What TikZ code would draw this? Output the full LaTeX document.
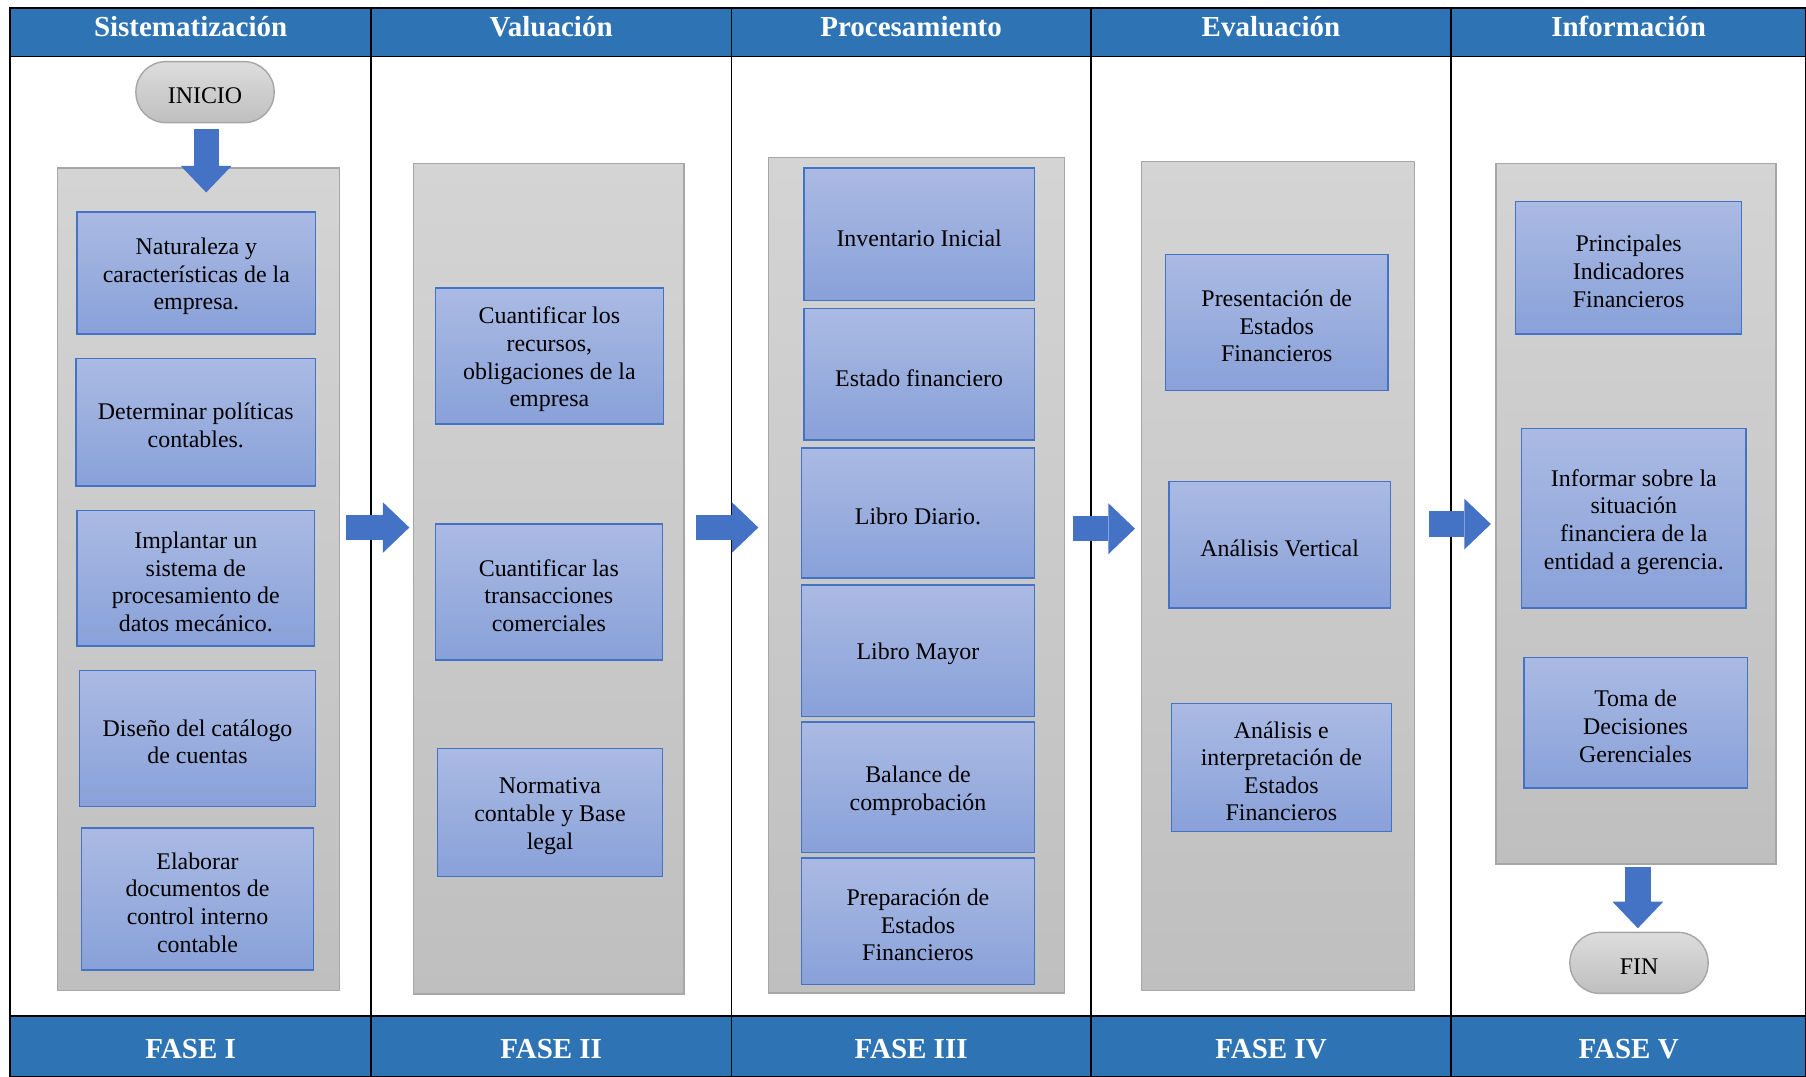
\documentclass[tikz,border=0pt]{standalone}
\usepackage{fontspec}
\setmainfont{Liberation Serif}
\usetikzlibrary{arrows.meta,calc}

\definecolor{headblue}{RGB}{46,116,181}
\definecolor{arrowblue}{RGB}{68,114,196}
\definecolor{boxtop}{RGB}{170,186,227}
\definecolor{boxbot}{RGB}{137,161,217}
\definecolor{paneltop}{RGB}{212,212,212}
\definecolor{panelbot}{RGB}{191,191,191}
\definecolor{panelline}{RGB}{166,166,166}
\def\pxu{0.023036cm}

\tikzset{
  panel/.style={draw=panelline, line width=0.8pt, top color=paneltop, bottom color=panelbot, inner sep=0pt},
  bluebox/.style={draw=arrowblue, line width=0.8pt, top color=boxtop, bottom color=boxbot, inner sep=0pt},
  boxtext/.style={align=center, inner sep=0pt, yshift=-2pt, font=\fontsize{13.6}{15.7}\selectfont},
  terminal/.style={draw=panelline, line width=0.8pt, top color=paneltop!80!white, bottom color=panelbot,
    rounded corners=0.6cm, minimum width=120*\pxu, minimum height=53*\pxu, inner sep=0pt},
  headtext/.style={text=white, inner sep=0pt, font=\fontsize{16.5}{18}\selectfont\bfseries}
}
\tikzset{
  bigarrow/.style={draw=arrowblue, line width=0.507cm,
    -{Triangle[length=0.53cm,width=1.014cm,line width=0pt]}}
}

\begin{document}
\begin{tikzpicture}[x=0.023036cm, y=-0.023036cm]
  \useasboundingbox (0,0) rectangle (1568,935);

  % header and footer bands
  \fill[headblue] (9,7) rectangle (1568,49);
  \fill[headblue] (9,882) rectangle (1568,935);
  \foreach \n/\x/\t/\f in {1/165.5/Sistematización/FASE I, 2/478.5/Valuación/FASE II,
      3/791/Procesamiento/FASE III, 4/1103.5/Evaluación/FASE IV, 5/1414/Información/FASE V}{
    \node[headtext] (h\n) at (\x,23) {\t};
    \node[headtext] (f\n) at (\x,911) {\f};
  }

  % table lines
  \draw[line width=1pt] (9,7) rectangle (1568,935);
  \draw[line width=1pt] (9,49) -- (1568,49) (9,882) -- (1568,882);
  \foreach \x in {322,635,947,1260}
    \draw[line width=1pt] (\x,7) -- (\x,935);

  % gray panels
  \foreach \n/\xa/\ya/\xb/\yb in {p1/50/146/295/860, p2/359/142/594/863, p3/667/137/924/862,
      p4/991/140/1228/860, p5/1299/142/1542/750}
    \node[panel, minimum width={(\xb-\xa)*\pxu}, minimum height={(\yb-\ya)*\pxu}] (\n) at ({(\xa+\xb)/2},{(\ya+\yb)/2}) {};

  % steps
  \foreach \n/\xa/\ya/\xb/\yb/\t in {
      a1/67/184/274/290/{Naturaleza y\\características de la\\empresa.},
      a2/66/311/274/422/{Determinar políticas\\contables.},
      a3/67/443/273/561/{Implantar un\\sistema de\\procesamiento de\\datos mecánico.},
      a4/69/582/274/700/{Diseño del catálogo\\de cuentas},
      a5/71/719/272/842/{Elaborar\\documentos de\\control interno\\contable},
      b1/378/250/576/368/{Cuantificar los\\recursos,\\obligaciones de la\\empresa},
      b2/378/455/575/573/{Cuantificar las\\transacciones\\comerciales},
      b3/380/650/575/761/{Normativa\\contable y Base\\legal},
      c1/698/146/898/261/{Inventario Inicial},
      c2/698/268/898/382/{Estado financiero},
      c3/696/389/898/502/{Libro Diario.},
      c4/696/508/898/622/{Libro Mayor},
      c5/696/627/898/740/{Balance de\\comprobación},
      c6/696/745/898/855/{Preparación de\\Estados\\Financieros},
      d1/1012/221/1205/339/{Presentación de\\Estados\\Financieros},
      d2/1015/418/1207/528/{Análisis Vertical},
      d3/1017/611/1208/722/{Análisis e\\interpretación de\\Estados\\Financieros},
      e1/1316/175/1512/290/{Principales\\Indicadores\\Financieros},
      e2/1321/372/1516/528/{Informar sobre la\\situación\\financiera de la\\entidad a gerencia.},
      e3/1323/571/1517/684/{Toma de\\Decisiones\\Gerenciales}}
    \node[bluebox, minimum width={(\xb-\xa)*\pxu}, minimum height={(\yb-\ya)*\pxu},
      label={[boxtext]center:{\t}}] (\n) at ({(\xa+\xb)/2},{(\ya+\yb)/2}) {};

  % start and end
  \node[terminal, label={[boxtext]center:INICIO}] (ini) at (178,80) {};
  \node[terminal, label={[boxtext]center:FIN}] (fin) at (1423,836) {};

  % block arrows
  \draw[bigarrow] ($(ini.south)+(1,5)$) -- ($(ini.south)+(1,60)$);
  \foreach \a/\b/\s/\e/\y in {p1/p2/5/3/458, p2/p3/10/8/458, p3/p4/7/5/459, p4/p5/12/4/455}{
    \coordinate (row) at (0,\y);
    \draw[bigarrow] ($(\a.east |- row)+(\s,0)$) -- ($(\b.west |- row)-(\e,0)$);
  }
  \draw[bigarrow] ($(fin.north |- p5.south)+(-1,2)$) -- ($(fin.north)+(-1,-3)$);

\end{tikzpicture}
\end{document}
